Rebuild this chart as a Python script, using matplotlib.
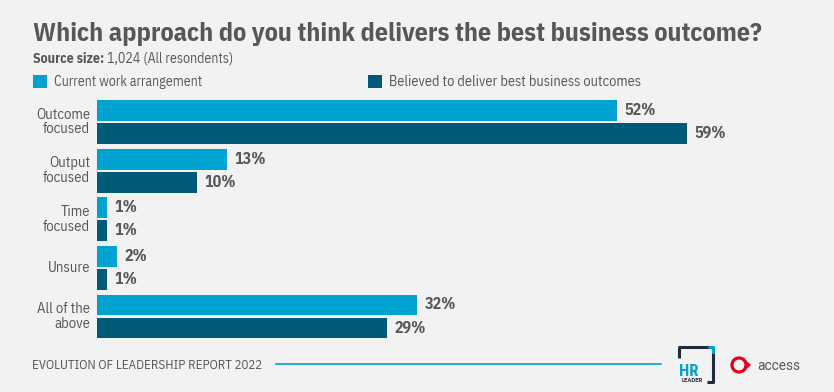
import matplotlib
matplotlib.use("Agg")
import matplotlib.pyplot as plt
from matplotlib.patches import Rectangle, Circle, Polygon

plt.rcParams['font.family'] = ['IBM Plex Sans Condensed', 'Open Sans', 'DejaVu Sans']

title = 'Which approach do you think delivers the best business outcome?'
categories = ['Outcome\nfocused', 'Output\nfocused', 'Time\nfocused', 'Unsure', 'All of the\nabove']
current = [52, 13, 1, 2, 32]
believed = [59, 10, 1, 1, 29]
series_names = ['Current work arrangement', 'Believed to deliver best business outcomes']

bg = '#F2F2F2'
c_light = '#00A3CF'
c_dark = '#015A78'
grey = '#575757'
navy = '#1D2B3D'
red = '#E2001A'

W, H = 834, 392
fig = plt.figure(figsize=(W / 100, H / 100), dpi=100, facecolor=bg)
r = fig.canvas.get_renderer()

# overlay axes in pixel units for the header/footer
ov = fig.add_axes([0, 0, 1, 1])
ov.set_xlim(0, W)
ov.set_ylim(H, 0)
ov.axis('off')


def fit(t, width):
    # shrink/grow a text so it spans the same width as in the original
    w = t.get_window_extent(r).width
    t.set_fontsize(t.get_fontsize() * width / w)


t = ov.text(33, 41, title, fontsize=18, fontweight='bold', color=grey, va='baseline')
fit(t, 730)

s1 = ov.text(33, 62.5, 'Source size:', fontsize=10, fontweight='bold', color=grey, va='baseline')
w1 = s1.get_window_extent(r).width
ov.text(33 + w1 + 3, 62.5, '1,024 (All resondents)', fontsize=10, color=grey, va='baseline')

# legend
for x0, name, col, wd in [(33, series_names[0], c_light, 148), (368, series_names[1], c_dark, 251)]:
    ov.add_patch(Rectangle((x0, 75), 14, 13, facecolor=col, edgecolor='none'))
    lt = ov.text(x0 + 21, 85.5, name, fontsize=10, color=grey, va='baseline')
    fit(lt, wd)

# bars
ax = fig.add_axes([97 / W, 1 - 340.8 / H, (W - 97) / W, 243 / H])
ax.set_facecolor('none')
ax.set_xlim(0, (W - 97) / 10)
ax.set_ylim(4.5, -0.5)
ypos = list(range(len(categories)))
h = 0.43
off = 0.237
ax.barh([y - off for y in ypos], current, height=h, color=c_light)
ax.barh([y + off for y in ypos], believed, height=h, color=c_dark)
for y, v in zip(ypos, current):
    ax.text(v + 0.75, y - off, f'{v}%', fontsize=11.5, fontweight='bold', color=grey, va='center')
for y, v in zip(ypos, believed):
    ax.text(v + 0.75, y + off, f'{v}%', fontsize=11.5, fontweight='bold', color=grey, va='center')
for y, c in zip(ypos, categories):
    ax.text(-0.7, y, c, fontsize=10.5, color=grey, va='center', ha='right', linespacing=1.05)
ax.set_xticks([])
ax.set_yticks([])
for sp in ax.spines.values():
    sp.set_visible(False)

# footer
ft = ov.text(32, 369, 'EVOLUTION OF LEADERSHIP REPORT 2022', fontsize=10, color=grey, va='baseline')
fit(ft, 229)
ov.plot([276, 661], [364, 364], color=c_light, lw=1.2)

# HR leader mark
ov.plot([679, 679], [358, 347], color=navy, lw=2.2, solid_capstyle='butt')
ov.plot([678, 709], [347, 347], color=navy, lw=2.2, solid_capstyle='butt')
ov.plot([708, 713, 713], [347, 347, 353], color=c_light, lw=2.2, solid_capstyle='butt')
ov.plot([713, 713, 707], [353, 382, 382], color=navy, lw=2.2, solid_capstyle='butt')
ov.text(679, 375.5, 'HR', fontsize=12, fontweight='bold', color=c_light, va='baseline', ha='left',
        family=['Roboto Condensed', 'Roboto', 'DejaVu Sans'])
ov.text(692, 382.5, 'LEADER', fontsize=4.2, fontweight='bold', color=navy, va='baseline', ha='center',
        family=['Roboto', 'DejaVu Sans'])

# access mark
ov.add_patch(Polygon([[744, 358.5], [751, 365], [744, 371.5]], closed=True, facecolor=red, edgecolor='none'))
ov.add_patch(Circle((739, 365), 6.8, facecolor='none', edgecolor=red, lw=2.6))
ov.add_patch(Circle((739, 365), 5.4, facecolor=bg, edgecolor='none'))
at = ov.text(757, 369.5, 'access', fontsize=11, color=grey, va='baseline', family=['Roboto', 'DejaVu Sans'])
fit(at, 43)

fig.savefig('out.png', dpi=100, facecolor=bg)
